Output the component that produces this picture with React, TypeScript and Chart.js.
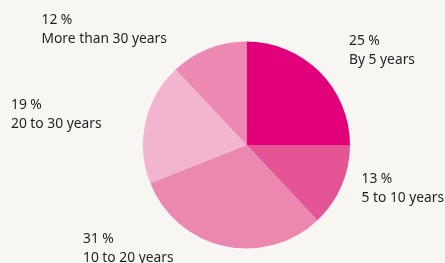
import React, { useEffect, useRef } from "react";
import { Chart, registerables } from "chart.js";

Chart.register(...registerables);

const categories = ["By 5 years", "5 to 10 years", "10 to 20 years", "20 to 30 years", "More than 30 years"];
const values = [25, 13, 31, 19, 12];
const colors = ["#e2007a", "#e55495", "#ec87b0", "#f3b4cf", "#ec88b1"];

// label anchor (left x, first baseline) per slice — layout only
const labelPos = [
  [349, 45],
  [361.5, 182.5],
  [83, 242.5],
  [11, 108.5],
  [41.5, 24],
];

const labelPlugin = {
  id: "sliceLabels",
  afterDraw(chart: any) {
    const ctx = chart.ctx;
    ctx.save();
    ctx.fillStyle = "#231f20";
    ctx.font = "13.8px 'Noto Sans'";
    ctx.textAlign = "left";
    ctx.textBaseline = "alphabetic";
    const data = chart.data.datasets[0].data as number[];
    data.forEach((v, i) => {
      const [x, y] = labelPos[i];
      ctx.fillText(`${v} %`, x, y);
      ctx.fillText(chart.data.labels[i], x, y + 19);
    });
    ctx.restore();
  },
};

export default function App() {
  const ref = useRef<HTMLCanvasElement>(null);
  useEffect(() => {
    const chart = new Chart(ref.current!, {
      type: "pie",
      data: {
        labels: categories,
        datasets: [
          {
            data: values,
            backgroundColor: colors,
            borderWidth: 0,
          },
        ],
      },
      options: {
        responsive: false,
        animation: false,
        layout: { padding: { left: 143, right: 95, top: 41.5, bottom: 14.5 } },
        plugins: { legend: { display: false }, tooltip: { enabled: false } },
      },
      plugins: [labelPlugin],
    });
    return () => chart.destroy();
  }, []);
  return (
    <div style={{ position: "absolute", left: 0, top: 0, width: 445, height: 263, background: "#f8f6f2" }}>
      <canvas ref={ref} width={445} height={263} style={{ width: 445, height: 263 }} />
    </div>
  );
}
